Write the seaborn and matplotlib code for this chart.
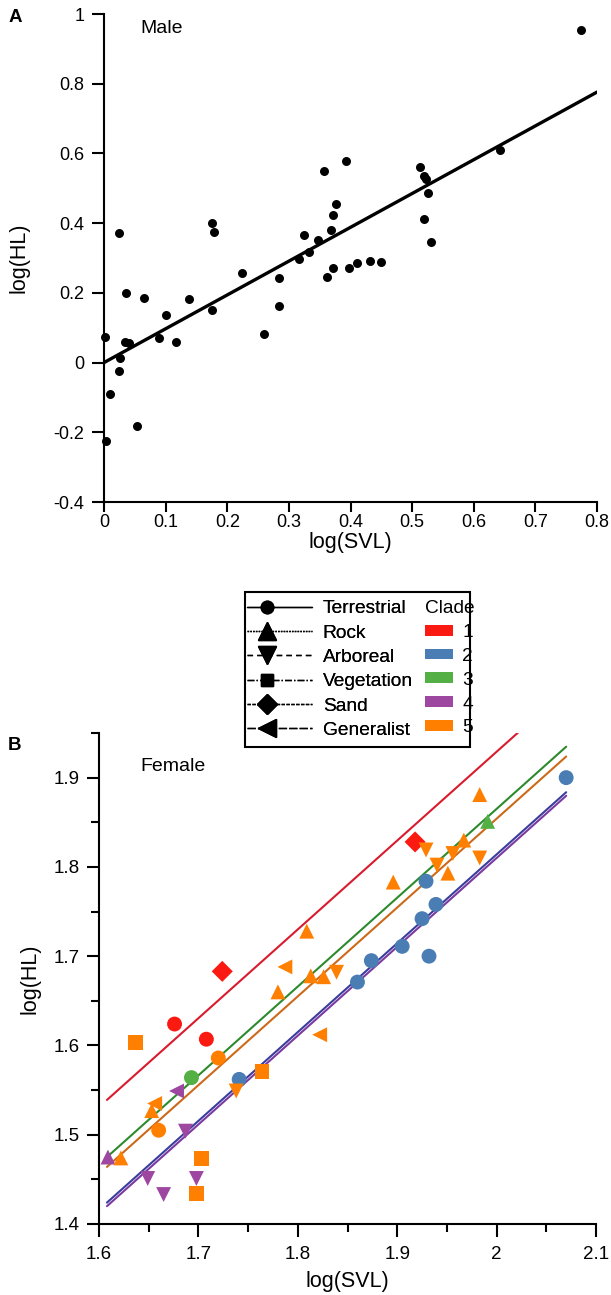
import numpy as np
import pandas as pd
import matplotlib
matplotlib.use("Agg")
import matplotlib.pyplot as plt
import seaborn as sns
from matplotlib.lines import Line2D
from matplotlib.patches import Patch, Rectangle
from matplotlib.legend_handler import HandlerLine2D
from matplotlib.ticker import MultipleLocator, FuncFormatter

# ---- panel A : male ----
male_svl = [0.002, 0.009, 0.004, 0.025, 0.036, 0.034, 0.041, 0.026, 0.024, 0.054,
            0.065, 0.089, 0.101, 0.117, 0.138, 0.175, 0.178, 0.175, 0.224, 0.260,
            0.284, 0.284, 0.317, 0.324, 0.332, 0.347, 0.357, 0.362, 0.368, 0.371,
            0.377, 0.372, 0.393, 0.397, 0.410, 0.432, 0.450, 0.512, 0.519, 0.522,
            0.526, 0.520, 0.531, 0.642, 0.774]
male_hl = [0.074, -0.090, -0.225, 0.371, 0.199, 0.060, 0.055, 0.012, -0.024, -0.181,
           0.184, 0.070, 0.137, 0.060, 0.182, 0.401, 0.374, 0.151, 0.256, 0.082,
           0.244, 0.163, 0.297, 0.365, 0.316, 0.353, 0.551, 0.246, 0.380, 0.424,
           0.454, 0.270, 0.579, 0.270, 0.286, 0.290, 0.289, 0.560, 0.535, 0.526,
           0.487, 0.411, 0.346, 0.609, 0.954]
male_fit = (0.97, 0.0)  # slope, intercept

# ---- panel B : female ----
fem_svl = [1.724, 1.787, 1.780, 1.676, 1.637, 1.708, 1.720, 1.693, 1.741, 1.764,
           1.738, 1.678, 1.656, 1.653, 1.660, 1.687, 1.609, 1.622, 1.703, 1.649,
           1.698, 1.665, 1.698, 1.918, 1.929, 1.896, 1.809, 1.929, 1.925, 1.905,
           1.874, 1.932, 2.070, 1.983, 1.991, 1.967, 1.956, 1.983, 1.940, 1.951,
           1.939, 1.813, 1.826, 1.839, 1.860, 1.822]
fem_hl = [1.683, 1.688, 1.660, 1.624, 1.603, 1.607, 1.586, 1.564, 1.562, 1.571,
          1.549, 1.549, 1.535, 1.527, 1.505, 1.504, 1.475, 1.474, 1.473, 1.451,
          1.451, 1.433, 1.434, 1.828, 1.819, 1.783, 1.728, 1.784, 1.742, 1.711,
          1.695, 1.700, 1.900, 1.881, 1.851, 1.830, 1.815, 1.810, 1.802, 1.793,
          1.758, 1.678, 1.677, 1.682, 1.671, 1.612]
fem_habitat = ["Sand", "Generalist", "Rock", "Terrestrial", "Vegetation", "Terrestrial",
               "Terrestrial", "Terrestrial", "Terrestrial", "Vegetation", "Arboreal",
               "Generalist", "Generalist", "Rock", "Terrestrial", "Arboreal", "Rock",
               "Rock", "Vegetation", "Arboreal", "Arboreal", "Arboreal", "Vegetation",
               "Sand", "Arboreal", "Rock", "Rock", "Terrestrial", "Terrestrial",
               "Terrestrial", "Terrestrial", "Terrestrial", "Terrestrial", "Rock", "Rock",
               "Rock", "Arboreal", "Arboreal", "Arboreal", "Rock", "Terrestrial", "Rock",
               "Rock", "Arboreal", "Terrestrial", "Generalist"]
fem_clade = [1, 5, 5, 1, 5, 1, 5, 3, 2, 5,
             5, 4, 5, 5, 5, 4, 4, 5, 5, 4,
             4, 4, 5, 1, 5, 5, 5, 2, 2, 2,
             2, 2, 2, 5, 3, 5, 5, 5, 5, 5,
             2, 5, 5, 5, 2, 5]

habitats = ["Terrestrial", "Rock", "Arboreal", "Vegetation", "Sand", "Generalist"]
habitat_markers = {"Terrestrial": "o", "Rock": "^", "Arboreal": "v",
                   "Vegetation": "s", "Sand": "D", "Generalist": "<"}
legend_marker_sizes = {"Terrestrial": 9, "Rock": 13, "Arboreal": 13,
                       "Vegetation": 8, "Sand": 10, "Generalist": 13}
habitat_dashes = {"Terrestrial": "-", "Rock": (0, (1.2, 0.8)), "Arboreal": (0, (4, 3)),
                  "Vegetation": (0, (5, 1.5, 1, 1.5)), "Sand": (0, (2.5, 1)),
                  "Generalist": (0, (6, 1.5))}
clades = [1, 2, 3, 4, 5]
clade_colors = {1: "#fb1a12", 2: "#4a7db3", 3: "#54b044", 4: "#9e47a0", 5: "#ff8000"}
# clade regression lines: common slope, one intercept each, x range
clade_line_colors = {1: "#d81b2e", 2: "#3b3d9c", 3: "#2d8a2d", 4: "#7a3aa0", 5: "#cc6a1a"}
clade_intercepts = {1: -0.061, 2: -0.176, 3: -0.125, 4: -0.180, 5: -0.136}
clade_xmax = {1: 2.024, 2: 2.07, 3: 2.07, 4: 2.07, 5: 2.07}
fem_slope = 0.995
fem_xmin = 1.608


class LeftMarkerHandler(HandlerLine2D):
    # line across the whole key, marker a bit left of the centre
    def create_artists(self, legend, orig_handle, xdescent, ydescent, width, height,
                       fontsize, trans):
        y = height / 2 - ydescent
        line = Line2D([-xdescent, -xdescent + width], [y, y])
        self.update_prop(line, orig_handle, legend)
        line.set_marker("None")
        mark = Line2D([-xdescent + 0.31 * width], [y])
        self.update_prop(mark, orig_handle, legend)
        mark.set_linestyle("None")
        line.set_transform(trans)
        mark.set_transform(trans)
        return [line, mark]


sns.set_style("ticks", {"axes.edgecolor": "black", "xtick.color": "black",
                        "ytick.color": "black", "text.color": "black",
                        "axes.labelcolor": "black"})
plt.rcParams['font.family'] = ['Liberation Sans', 'DejaVu Sans']

W, H = 611, 1295
fig = plt.figure(figsize=(W / 100, H / 100), dpi=100)

def px_axes(left, top, right, bottom):
    return fig.add_axes([left / W, 1 - bottom / H, (right - left) / W, (bottom - top) / H])

fmt = FuncFormatter(lambda v, p: "%g" % round(v, 3))

# ---------------- panel A ----------------
ax1 = px_axes(104, 14, 597, 502)
df_m = pd.DataFrame({"svl": male_svl, "hl": male_hl})
sns.scatterplot(ax=ax1, data=df_m, x="svl", y="hl", color="black", s=42,
                linewidth=0, zorder=3, clip_on=False)
xx = np.array([0, 0.8])
ax1.plot(xx, male_fit[0] * xx + male_fit[1], color="black", lw=2.4, zorder=2)
ax1.set_xlim(0, 0.8)
ax1.set_ylim(-0.4, 1.0)
ax1.xaxis.set_major_locator(MultipleLocator(0.1))
ax1.yaxis.set_major_locator(MultipleLocator(0.2))
ax1.xaxis.set_major_formatter(fmt)
ax1.yaxis.set_major_formatter(fmt)
ax1.set_xlabel("log(SVL)", fontsize=15.5)
ax1.set_ylabel("log(HL)", fontsize=15.5)
ax1.xaxis.set_label_coords(0.5, -0.061)
ax1.yaxis.set_label_coords(-0.152, 0.5)
ax1.text(0.073, 0.971, "Male", transform=ax1.transAxes, fontsize=14, va="center")

# ---------------- panel B ----------------
ax2 = px_axes(99, 733, 596, 1224)
df_f = pd.DataFrame({"svl": fem_svl, "hl": fem_hl, "habitat": fem_habitat,
                     "clade": fem_clade})
for c in clades:
    xs = np.array([fem_xmin, clade_xmax[c]])
    ax2.plot(xs, fem_slope * xs + clade_intercepts[c], color=clade_line_colors[c],
             lw=1.5, zorder=2)
sns.scatterplot(ax=ax2, data=df_f, x="svl", y="hl", hue="clade", style="habitat",
                palette=clade_colors, markers=habitat_markers, s=115, linewidth=0,
                legend=False, zorder=3)
ax2.set_xlim(1.6, 2.1)
ax2.set_ylim(1.4, 1.95)
ax2.xaxis.set_major_locator(MultipleLocator(0.1))
ax2.xaxis.set_minor_locator(MultipleLocator(0.05))
ax2.yaxis.set_major_locator(MultipleLocator(0.1))
ax2.yaxis.set_minor_locator(MultipleLocator(0.05))
ax2.xaxis.set_major_formatter(fmt)
ax2.yaxis.set_major_formatter(fmt)
ax2.set_xlabel("log(SVL)", fontsize=15.5)
ax2.set_ylabel("log(HL)", fontsize=15.5)
ax2.xaxis.set_label_coords(0.5, -0.095)
ax2.yaxis.set_label_coords(-0.117, 0.5)
ax2.text(0.0825, 0.931, "Female", transform=ax2.transAxes, fontsize=14, va="center")

for ax in (ax1, ax2):
    sns.despine(ax=ax)
    for s in ("left", "bottom"):
        ax.spines[s].set_linewidth(1.5)
    ax.tick_params(which="major", length=9, width=1.5, labelsize=13.5, pad=5)
    ax.tick_params(which="minor", length=5.5, width=1.5)
ax1.tick_params(axis="both", labelsize=13)
ax1.tick_params(axis="x", length=7, pad=1.5)
ax2.tick_params(axis="x", pad=6.5)

fig.text(15 / W, 1 - 17 / H, "A", fontsize=13.5, fontweight="bold", ha="center", va="center")
fig.text(15 / W, 1 - 745 / H, "B", fontsize=13.5, fontweight="bold", ha="center", va="center")

# ---------------- legend ----------------
hab_handles = [Line2D([], [], color="black", lw=1.0, linestyle=habitat_dashes[h],
                      marker=habitat_markers[h], markersize=legend_marker_sizes[h])
               for h in habitats]
leg1 = fig.legend(hab_handles, habitats, loc="upper left",
                  bbox_to_anchor=(247 / W, 1 - 600 / H), frameon=False, fontsize=13.8,
                  handlelength=3.4, handletextpad=0.55, labelspacing=0.36, borderpad=0,
                  borderaxespad=0, handler_map={Line2D: LeftMarkerHandler()})
clade_handles = [Patch(facecolor=clade_colors[c], edgecolor="none") for c in clades]
leg2 = fig.legend(clade_handles, [str(c) for c in clades], loc="upper left",
                  bbox_to_anchor=(425 / W, 1 - 600 / H), frameon=False, fontsize=13.8,
                  title="Clade", title_fontsize=13.8, alignment="left",
                  handlelength=1.45, handleheight=0.5, handletextpad=0.5,
                  labelspacing=0.36, borderpad=0, borderaxespad=0)
fig.add_artist(leg1)
fig.patches.append(Rectangle((245 / W, 1 - 747 / H), 225 / W, 155 / H,
                             transform=fig.transFigure, fill=False, edgecolor="black",
                             lw=1.5))

fig.savefig("out.png", dpi=100)
